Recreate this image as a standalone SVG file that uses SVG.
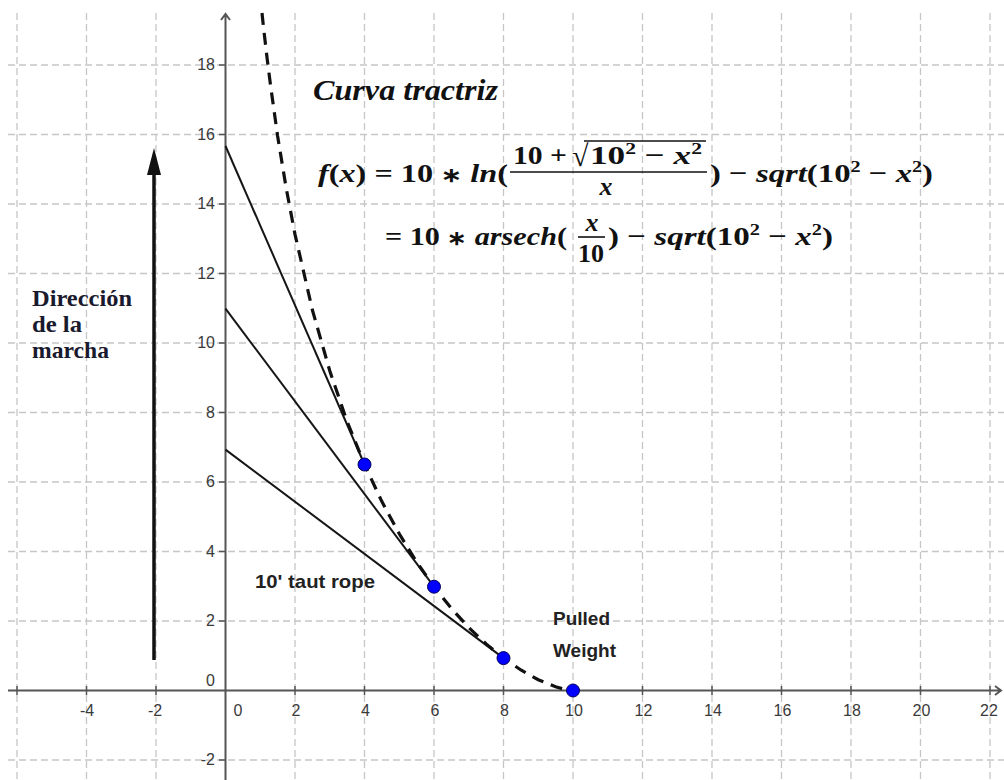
<svg xmlns="http://www.w3.org/2000/svg" width="1004" height="780" viewBox="0 0 1004 780">
<defs>
<style>
.grid{stroke:#c6c6c6;stroke-width:1.3;stroke-dasharray:7 4;fill:none}
.axis{stroke:#555;stroke-width:2;fill:none}
.tick{stroke:#555;stroke-width:1.5}
.lbl{font-family:"Liberation Sans",Arial,sans-serif;font-size:16px;fill:#3a3a3a}
.yl{text-anchor:end}
.xl{text-anchor:middle}
.rope{stroke:#151515;stroke-width:2;fill:none}
.curve{stroke:#111;stroke-width:3.2;stroke-dasharray:12 8;fill:none}
.pt{fill:#0000ff;stroke:#00005a;stroke-width:1}
.math{font-family:"Liberation Serif","Times New Roman",serif;font-weight:bold;font-size:26px;fill:#111}
.it{font-style:italic}
.ast{font-size:20px}
.note{font-family:"Liberation Sans",Arial,sans-serif;font-weight:bold;font-size:19px;fill:#222}
.title{font-family:"Liberation Serif","Times New Roman",serif;font-weight:bold;font-style:italic;font-size:30px;fill:#111}
.dir{font-family:"Liberation Serif","Times New Roman",serif;font-weight:bold;font-size:23px;fill:#1a1a2e}
.bar{stroke:#111;stroke-width:1.6}
</style>
</defs>
<rect width="1004" height="780" fill="#fff"/>
<g id="grid">
<path class="grid" d="M17 13V780M86.5 13V780M156 13V780M295 13V780M364.5 13V780M434 13V780M503.5 13V780M573 13V780M642.5 13V780M712 13V780M781.5 13V780M851 13V780M920.5 13V780M990 13V780"/>
<path class="grid" d="M8 65H1004M8 134.5H1004M8 204H1004M8 273.5H1004M8 343H1004M8 412.5H1004M8 482H1004M8 551.5H1004M8 621H1004M8 760H1004"/>
</g>
<g id="axes">
<path class="axis" d="M8 690.5H1001M995 686L1001 690.5L995 695"/>
<path class="axis" d="M225.5 780V14M221 20L225.5 14L230 20"/>
<path class="tick" d="M17 686V695M86.5 686V695M156 686V695M295 686V695M364.5 686V695M434 686V695M503.5 686V695M573 686V695M642.5 686V695M712 686V695M781.5 686V695M851 686V695M920.5 686V695M990 686V695"/>
<path class="tick" d="M219 65H225.5M219 134.5H225.5M219 204H225.5M219 273.5H225.5M219 343H225.5M219 412.5H225.5M219 482H225.5M219 551.5H225.5M219 621H225.5M219 760H225.5"/>
<g class="lbl yl">
<text x="215" y="70">18</text>
<text x="215" y="139.5">16</text>
<text x="215" y="209">14</text>
<text x="215" y="278.5">12</text>
<text x="215" y="348">10</text>
<text x="215" y="417.5">8</text>
<text x="215" y="487">6</text>
<text x="215" y="556.5">4</text>
<text x="215" y="626">2</text>
<text x="215" y="686">0</text>
<text x="215" y="765">-2</text>
</g>
<g class="lbl xl">
<text x="87" y="716">-4</text>
<text x="155" y="716">-2</text>
<text x="238" y="716">0</text>
<text x="296" y="716">2</text>
<text x="365.5" y="716">4</text>
<text x="435" y="716">6</text>
<text x="504.5" y="716">8</text>
<text x="574" y="716">10</text>
<text x="643.5" y="716">12</text>
<text x="713" y="716">14</text>
<text x="782.5" y="716">16</text>
<text x="852" y="716">18</text>
<text x="921.5" y="716">20</text>
<text x="989" y="716">22</text>
</g>
</g>
<g id="connectors">
<path class="rope" d="M225.5 146L364.5 464.5"/>
<path class="rope" d="M225.5 308.7L434 586.7"/>
<path class="rope" d="M225.5 449.6L503.5 658.1"/>
<path class="curve" d="M262 13L263.7 29.1L267.2 59.1L270.7 86.6L277.6 135.9L286.3 188.8L295 234.3L312.4 310L329.75 370.8L347.1 421.5L364.5 464.5L381.9 501.6L399.25 533.8L416.6 562L434 586.7L451.4 608.5L468.75 627.5L486.1 643.9L503.5 658.1L520.9 670L538.25 679.7L555.6 686.8L564.3 689.2L573 690.5"/>
<path d="M154 660V172" stroke="#111" stroke-width="3.5" fill="none"/>
<polygon points="154,148 147,175 161,175" fill="#111"/>
</g>
<g id="points">
<circle class="pt" cx="364.5" cy="464.5" r="6.5"/>
<circle class="pt" cx="434" cy="586.7" r="6.5"/>
<circle class="pt" cx="503.5" cy="658.1" r="6.5"/>
<circle class="pt" cx="573" cy="690.5" r="6.5"/>
</g>
<g id="labels">
<text class="title" x="313" y="100" textLength="185" lengthAdjust="spacingAndGlyphs">Curva tractriz</text>
<text class="dir" x="32" y="306" textLength="100" lengthAdjust="spacingAndGlyphs">Dirección</text>
<text class="dir" x="32" y="332" textLength="50" lengthAdjust="spacingAndGlyphs">de la</text>
<text class="dir" x="32" y="358" textLength="77" lengthAdjust="spacingAndGlyphs">marcha</text>
<text class="note" x="255" y="588" textLength="120" lengthAdjust="spacingAndGlyphs">10' taut rope</text>
<text class="note" x="553" y="625">Pulled</text>
<text class="note" x="553" y="657">Weight</text>
</g>
<g id="formula">
<text class="math" x="318" y="182" textLength="190" lengthAdjust="spacingAndGlyphs"><tspan class="it">f</tspan>(<tspan class="it">x</tspan>) = 10 <tspan class="ast">∗</tspan> <tspan class="it">ln</tspan>(</text>
<text class="math" x="513" y="164" textLength="54" lengthAdjust="spacingAndGlyphs">10 +</text>
<text class="math" x="572" y="166" style="font-size:30px;font-weight:normal">√</text>
<line class="bar" x1="584" y1="141" x2="706" y2="141"/>
<text class="math" x="590" y="164" textLength="112" lengthAdjust="spacingAndGlyphs">10<tspan dy="-10" font-size="16">2</tspan><tspan dy="10"> − </tspan><tspan class="it">x</tspan><tspan dy="-10" font-size="16">2</tspan></text>
<line class="bar" x1="510" y1="172" x2="707" y2="172"/>
<text class="math it" x="606" y="195" text-anchor="middle">x</text>
<text class="math" x="710" y="182" textLength="223" lengthAdjust="spacingAndGlyphs">) − <tspan class="it">sqrt</tspan>(10<tspan dy="-10" font-size="16">2</tspan><tspan dy="10"> − </tspan><tspan class="it">x</tspan><tspan dy="-10" font-size="16">2</tspan><tspan dy="10">)</tspan></text>
<text class="math" x="385" y="245" textLength="182" lengthAdjust="spacingAndGlyphs">= 10 <tspan class="ast">∗</tspan> <tspan class="it">arsech</tspan>(</text>
<text class="math it" x="592" y="231" text-anchor="middle">x</text>
<line class="bar" x1="578" y1="237" x2="605" y2="237"/>
<text class="math" x="591" y="262" text-anchor="middle">10</text>
<text class="math" x="608" y="245" textLength="225" lengthAdjust="spacingAndGlyphs">) − <tspan class="it">sqrt</tspan>(10<tspan dy="-10" font-size="16">2</tspan><tspan dy="10"> − </tspan><tspan class="it">x</tspan><tspan dy="-10" font-size="16">2</tspan><tspan dy="10">)</tspan></text>
</g>
</svg>
